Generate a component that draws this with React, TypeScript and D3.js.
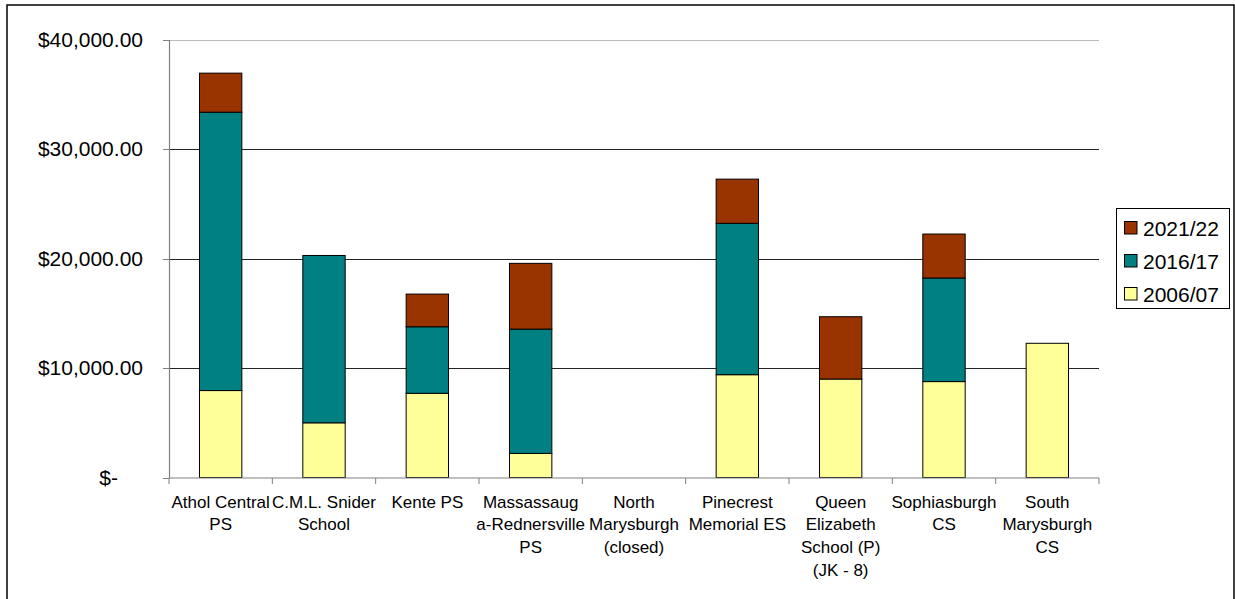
import React from 'react';
import * as d3 from 'd3';

const categories = [
  ['Athol Central', 'PS'],
  ['C.M.L. Snider', 'School'],
  ['Kente PS'],
  ['Massassaug', 'a-Rednersville', 'PS'],
  ['North', 'Marysburgh', '(closed)'],
  ['Pinecrest', 'Memorial ES'],
  ['Queen', 'Elizabeth', 'School (P)', '(JK - 8)'],
  ['Sophiasburgh', 'CS'],
  ['South', 'Marysburgh', 'CS'],
];

const v2006 = [7950, 5000, 7700, 2200, 0, 9400, 9000, 8770, 12270];
const v2016 = [25450, 15300, 6080, 11370, 0, 13840, 0, 9470, 0];
const v2021 = [3570, 0, 2990, 6010, 0, 4040, 5700, 4020, 0];

const seriesNames = ['2006/07', '2016/17', '2021/22'];
const seriesColors = ['#FFFF99', '#008080', '#993300'];
const yTicks = [0, 10000, 20000, 30000, 40000];

const W = 1235;
const H = 599;
const FONT = '"Liberation Sans", Arial, sans-serif';

export default function App() {
  const keys = categories.map((c) => c.join(' '));
  const rows = keys.map((k, i) => ({ key: k, s0: v2006[i], s1: v2016[i], s2: v2021[i] }));

  const x = d3.scaleBand<string>()
    .domain(keys)
    .range([169, 1099])
    .paddingInner(0.59)
    .paddingOuter(0.295);

  const y = d3.scaleLinear().domain([0, 40000]).range([477.5, 40]);

  const stacked = d3.stack<any>().keys(['s0', 's1', 's2'])(rows);

  const fmt = (v: number) => (v === 0 ? '$-' : '$' + d3.format(',.2f')(v));

  // category boundaries for the tick marks
  const step = x.step();
  const bounds = d3.range(keys.length + 1).map((i) => 169 + i * step);

  return (
    <svg
      width={W}
      height={H}
      style={{ position: 'fixed', left: 0, top: 0, background: '#fff' }}
      fontFamily={FONT}
    >
      <rect x={0} y={0} width={W} height={H} fill="#fff" />
      <rect x={7} y={5} width={1227} height={H + 10} fill="none" stroke="#000" strokeWidth={1.5} />

      {/* gridlines */}
      {yTicks.filter((t) => t > 0).map((t) => (
        <line
          key={'g' + t}
          x1={169}
          x2={1099}
          y1={Math.round(y(t)) + 0.5}
          y2={Math.round(y(t)) + 0.5}
          stroke={t === 40000 ? '#bbb' : '#222'}
          strokeWidth={1}
        />
      ))}

      {/* bars */}
      {stacked.map((layer, li) => (
        <g key={layer.key}>
          {layer.map((d, i) => {
            const h = y(d[0]) - y(d[1]);
            if (h <= 0.01) return null;
            return (
              <rect
                key={i}
                x={x(keys[i])!}
                y={y(d[1])}
                width={x.bandwidth()}
                height={h}
                fill={seriesColors[li]}
                stroke="#000"
                strokeWidth={1}
              />
            );
          })}
        </g>
      ))}

      {/* y axis */}
      <line x1={169.5} x2={169.5} y1={40} y2={478} stroke="#808080" strokeWidth={1.2} />
      {yTicks.map((t) => (
        <g key={'y' + t}>
          <line x1={163} x2={169} y1={Math.round(y(t)) + 0.5} y2={Math.round(y(t)) + 0.5} stroke="#808080" />
          <text
            x={t === 0 ? 118 : 143}
            y={y(t) + 7}
            textAnchor="end"
            fontSize={21}
            fill="#000"
          >
            {fmt(t)}
          </text>
        </g>
      ))}

      {/* x axis */}
      <line x1={169} x2={1099} y1={478} y2={478} stroke="#808080" strokeWidth={1.2} />
      {bounds.map((b, i) => (
        <line key={'xt' + i} x1={b} x2={b} y1={478} y2={484} stroke="#808080" />
      ))}
      {categories.map((lines, i) => (
        <text
          key={'c' + i}
          x={x(keys[i])! + x.bandwidth() / 2}
          y={507.5}
          textAnchor="middle"
          fontSize={17}
          fill="#000"
        >
          {lines.map((ln, j) => (
            <tspan key={j} x={x(keys[i])! + x.bandwidth() / 2} dy={j === 0 ? 0 : 22.7}>
              {ln}
            </tspan>
          ))}
        </text>
      ))}

      {/* legend */}
      <rect x={1116.5} y={208.5} width={113} height={100} fill="#fff" stroke="#000" />
      {[2, 1, 0].map((si, j) => (
        <g key={'l' + si} transform={`translate(1124,${221.5 + j * 33})`}>
          <rect x={0.5} y={0} width={12.5} height={12.5} fill={seriesColors[si]} stroke="#000" />
          <text x={19} y={14} fontSize={21} fill="#000">
            {seriesNames[si]}
          </text>
        </g>
      ))}
    </svg>
  );
}
